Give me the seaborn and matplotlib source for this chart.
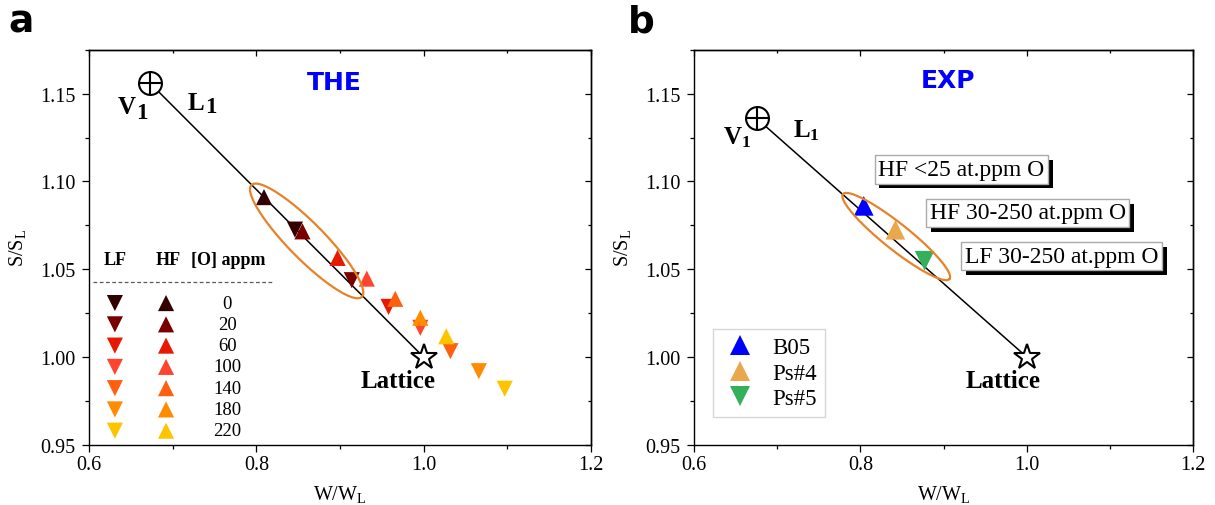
import numpy as np
import pandas as pd
import matplotlib
matplotlib.use('Agg')
import matplotlib.pyplot as plt
import seaborn as sns
from matplotlib import patheffects
from matplotlib.ticker import MultipleLocator, NullFormatter

# ---- data ----
ppm_levels = [0, 20, 60, 100, 140, 180, 220]
ppm_colors = ['#330000', '#7A0000', '#E61A00', '#FF4530', '#FF6010', '#FF8C00', '#FFC400']

# panel a (theory): low-field (LF) and high-field (HF) points
lf_w = [0.846, 0.914, 0.958, 0.996, 1.032, 1.066, 1.097]
lf_s = [1.0726, 1.0438, 1.0286, 1.0167, 1.0034, 0.992, 0.982]
hf_w = [0.809, 0.855, 0.897, 0.932, 0.966, 0.996, 1.027]
hf_s = [1.0911, 1.0716, 1.0565, 1.0447, 1.0332, 1.0224, 1.0119]

# panel b (experiment)
exp_samples = ['B05', 'Ps#4', 'Ps#5']
exp_w = [0.804, 0.842, 0.877]
exp_s = [1.0861, 1.0725, 1.0549]
exp_colors = ['#0000FF', '#E9A84C', '#35B05A']
exp_markers = ['^', '^', 'v']
exp_boxes = ['HF <25 at.ppm O', 'HF 30-250 at.ppm O', 'LF 30-250 at.ppm O']

# reference states
the_v1 = (0.6726, 1.156)
exp_v1 = (0.6753, 1.1359)
lattice = (1.0, 1.0)

# ellipse ends (major axis) in data units
the_ellipse = [(0.794, 1.098), (0.926, 1.0343)]
exp_ellipse = [(0.779, 1.0928), (0.907, 1.0445)]

sns.set_style('ticks')
plt.rcParams['font.family'] = ['Liberation Serif', 'DejaVu Serif']
plt.rcParams['text.color'] = 'black'
plt.rcParams['axes.labelcolor'] = 'black'
plt.rcParams['mathtext.fontset'] = 'custom'
plt.rcParams['mathtext.rm'] = 'Liberation Serif'
plt.rcParams['mathtext.bf'] = 'Liberation Serif:bold'

fig = plt.figure(figsize=(12.15, 5.06), dpi=100)
ax1 = fig.add_axes([0.0735, 0.1186, 0.4128, 0.7812])
ax2 = fig.add_axes([0.5712, 0.1186, 0.4110, 0.7812])


def style_axes(ax):
    ax.set_xlim(0.6, 1.2)
    ax.set_ylim(0.95, 1.175)
    ax.xaxis.set_major_locator(MultipleLocator(0.2))
    ax.xaxis.set_minor_locator(MultipleLocator(0.1))
    ax.yaxis.set_major_locator(MultipleLocator(0.05))
    ax.yaxis.set_minor_locator(MultipleLocator(0.025))
    ax.xaxis.set_major_formatter(matplotlib.ticker.FormatStrFormatter('%.1f'))
    ax.yaxis.set_major_formatter(matplotlib.ticker.FormatStrFormatter('%.2f'))
    for sp in ax.spines.values():
        sp.set_color('black')
        sp.set_linewidth(1.0)
    ax.tick_params(which='both', direction='out', color='black', width=0.9,
                   labelsize=14.5, labelcolor='black')
    ax.tick_params(which='major', length=5)
    ax.tick_params(which='minor', length=3)
    ax.tick_params(axis='x', pad=2)
    ax.tick_params(axis='y', pad=5)
    # inward mirror ticks on top / right
    top = ax.secondary_xaxis('top')
    top.xaxis.set_major_locator(MultipleLocator(0.2))
    top.xaxis.set_minor_locator(MultipleLocator(0.1))
    top.xaxis.set_major_formatter(NullFormatter())
    top.tick_params(which='both', direction='in', width=0.9, color='black')
    top.tick_params(which='major', length=4)
    top.tick_params(which='minor', length=2.5)
    top.spines['top'].set_linewidth(1.0)
    top.spines['top'].set_color('black')
    right = ax.secondary_yaxis('right')
    right.yaxis.set_major_locator(MultipleLocator(0.05))
    right.yaxis.set_minor_locator(MultipleLocator(0.025))
    right.yaxis.set_major_formatter(NullFormatter())
    right.tick_params(which='both', direction='in', width=0.9, color='black')
    right.tick_params(which='major', length=4)
    right.tick_params(which='minor', length=2.5)
    right.spines['right'].set_linewidth(1.0)
    right.spines['right'].set_color('black')


def set_labels(ax):
    ax.set_xlabel(r'W/W$_\mathregular{L}$', fontsize=14.5, labelpad=7)
    ax.set_ylabel(r'S/S$_\mathregular{L}$', fontsize=14.5, labelpad=8)


def draw_ellipse(ax, ends, half_width_px, color='#E8822A'):
    T = ax.transData
    a = T.transform(ends[0])
    b = T.transform(ends[1])
    c = (a + b) / 2
    u = (b - a) / 2
    n = np.array([-u[1], u[0]])
    n = n / np.linalg.norm(n) * half_width_px
    t = np.linspace(0, 2 * np.pi, 300)
    pts = c + np.outer(np.cos(t), u) + np.outer(np.sin(t), n)
    d = T.inverted().transform(pts)
    ax.plot(d[:, 0], d[:, 1], color=color, lw=1.6, zorder=4)


def draw_refs(ax, v1):
    ax.plot([v1[0], lattice[0]], [v1[1], lattice[1]], color='black', lw=1.1, zorder=1)
    ax.plot(*v1, marker='o', ms=16.5, mfc='white', mec='black', mew=1.5, zorder=5)
    ax.plot(*v1, marker='+', ms=16.5, mec='black', mew=1.5, zorder=6)
    ax.plot(*lattice, marker='*', ms=19, mfc='white', mec='black', mew=1.5, zorder=5)


for ax in (ax1, ax2):
    style_axes(ax)

# ---- panel a ----
the_df = pd.DataFrame({
    'w': lf_w + hf_w,
    's': lf_s + hf_s,
    'ppm': ppm_levels + ppm_levels,
    'field': ['LF'] * len(lf_w) + ['HF'] * len(hf_w),
})
draw_refs(ax1, the_v1)
sns.scatterplot(data=the_df, x='w', y='s', hue='ppm', style='field',
                palette=dict(zip(ppm_levels, ppm_colors)),
                markers={'LF': 'v', 'HF': '^'}, s=135, linewidth=0,
                legend=False, ax=ax1, zorder=3)
set_labels(ax1)
draw_ellipse(ax1, the_ellipse, 18)

ax1.text(0.6450, 1.1425, 'V', fontsize=18, fontweight='bold', ha='center', va='center')
ax1.text(0.6625, 1.1395, '1', fontsize=16.5, fontweight='bold', ha='center', va='center')
ax1.text(0.7270, 1.1447, 'L', fontsize=18, fontweight='bold', ha='center', va='center')
ax1.text(0.7450, 1.1428, '1', fontsize=16.5, fontweight='bold', ha='center', va='center')
ax1.text(0.969, 0.9868, 'Lattice', fontsize=18, fontweight='bold', ha='center', va='center')
ax1.text(0.488, 0.918, 'THE', transform=ax1.transAxes, fontsize=18, fontweight='bold',
         color='#0000FF', family='DejaVu Sans', ha='center', va='center')

# custom legend table
ax1.text(0.051, 0.470, 'LF', transform=ax1.transAxes, fontsize=13, fontweight='bold',
         ha='center', va='center')
ax1.text(0.158, 0.470, 'HF', transform=ax1.transAxes, fontsize=13, fontweight='bold',
         ha='center', va='center')
ax1.text(0.277, 0.470, '[O] appm', transform=ax1.transAxes, fontsize=13, fontweight='bold',
         ha='center', va='center')
ax1.plot([0.007, 0.366], [0.412, 0.412], transform=ax1.transAxes, color='0.35',
         lw=0.9, ls=(0, (3, 2)))
row_y = 0.359 - 0.0538 * np.arange(len(ppm_levels))
ax1.scatter([0.051] * len(ppm_levels), row_y, c=ppm_colors, marker='v', s=135,
            linewidths=0, transform=ax1.transAxes, clip_on=False)
ax1.scatter([0.153] * len(ppm_levels), row_y, c=ppm_colors, marker='^', s=135,
            linewidths=0, transform=ax1.transAxes, clip_on=False)
for yy, lev in zip(row_y, ppm_levels):
    ax1.text(0.275, yy, str(lev), transform=ax1.transAxes, fontsize=13.5,
             ha='center', va='center')

# ---- panel b ----
exp_df = pd.DataFrame({'w': exp_w, 's': exp_s, 'sample': exp_samples})
draw_refs(ax2, exp_v1)
sns.scatterplot(data=exp_df, x='w', y='s', hue='sample', style='sample',
                palette=dict(zip(exp_samples, exp_colors)),
                markers=dict(zip(exp_samples, exp_markers)), s=200, linewidth=0,
                ax=ax2, zorder=3)
set_labels(ax2)
draw_ellipse(ax2, exp_ellipse, 13)

old = ax2.get_legend()
handles = old.legend_handles
labels = [t.get_text() for t in old.texts]
for h in handles:
    h.set_markersize(14)
    h.set_markeredgewidth(0)
leg = ax2.legend(handles, labels, loc='lower left', bbox_to_anchor=(0.039, 0.07),
                 borderaxespad=0, frameon=True, fancybox=False, edgecolor='#cccccc',
                 fontsize=16.5, handletextpad=0.6, labelspacing=0.2, borderpad=0.35,
                 handlelength=1.6)
leg.get_frame().set_linewidth(1.0)

ax2.text(0.6513, 1.1255, r'$\mathbf{V_1}$', fontsize=18, ha='center', va='center')
ax2.text(0.7346, 1.1295, r'$\mathbf{L_1}$', fontsize=18, ha='center', va='center')
ax2.text(0.972, 0.9868, 'Lattice', fontsize=18, fontweight='bold', ha='center', va='center')
ax2.text(0.508, 0.924, 'EXP', transform=ax2.transAxes, fontsize=18, fontweight='bold',
         color='#0000FF', family='DejaVu Sans', ha='center', va='center')

box_pos = [(0.535, 0.697), (0.668, 0.587), (0.736, 0.478)]
for lab, (bx, by) in zip(exp_boxes, box_pos):
    t = ax2.text(bx, by, lab, transform=ax2.transAxes, fontsize=17, ha='center',
                 va='center', zorder=7,
                 bbox=dict(boxstyle='square,pad=0.15', fc='white', ec='#aaaaaa', lw=1))
    t.get_bbox_patch().set_path_effects([
        patheffects.SimplePatchShadow(offset=(3.5, -3.5), shadow_rgbFace='black', alpha=1.0),
        patheffects.Normal()])

fig.text(0.0173, 0.935, 'a', fontsize=27, fontweight='bold', family='DejaVu Sans',
         color='black', ha='center', va='baseline')
fig.text(0.5276, 0.935, 'b', fontsize=27, fontweight='bold', family='DejaVu Sans',
         color='black', ha='center', va='baseline')

fig.savefig('out.png', dpi=100)
